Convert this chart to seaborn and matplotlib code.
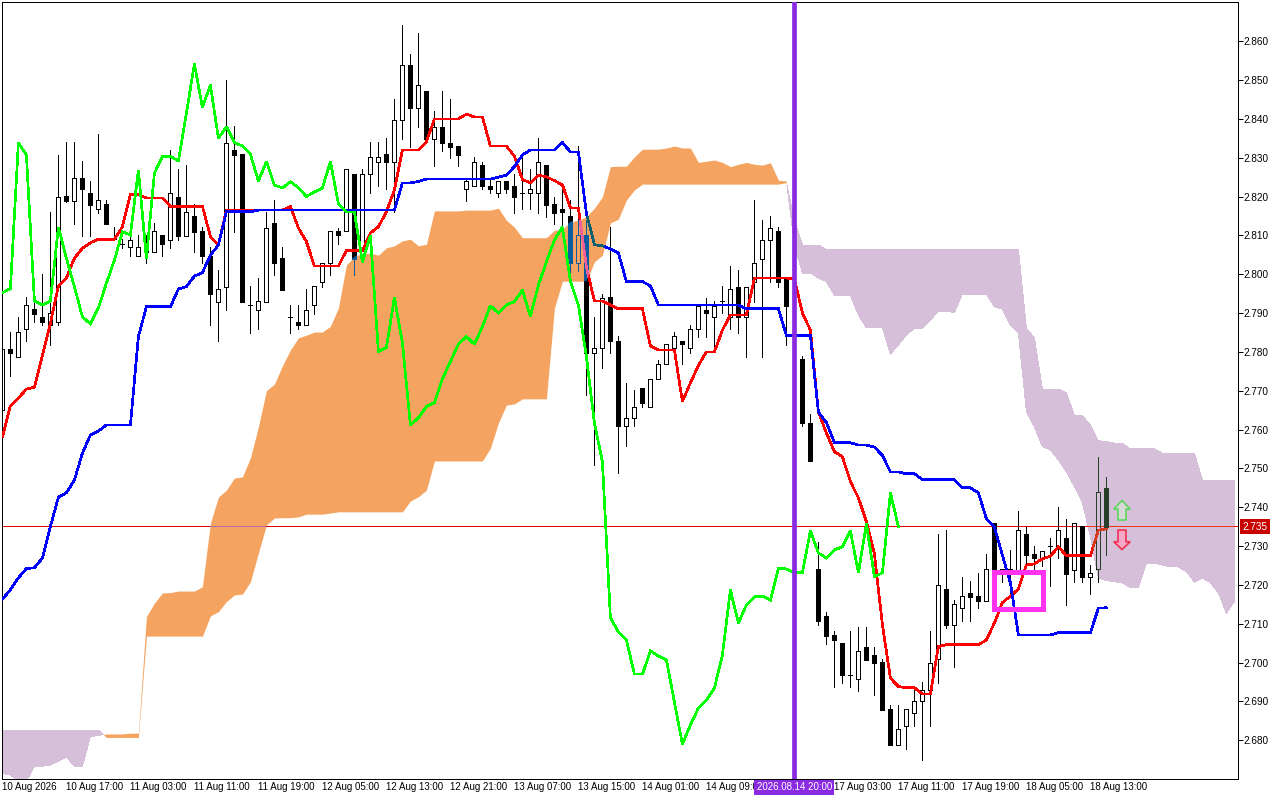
import matplotlib
matplotlib.use('Agg')
import matplotlib.pyplot as plt
from matplotlib.patches import Polygon, Rectangle
from matplotlib.path import Path
import numpy as np
import pandas as pd
import seaborn as sns

nan = float('nan')

# candles, one value per bar (bar 99 sits behind the vertical marker)
open_ = [2.7649, 2.7808, 2.7788, 2.7860, 2.7910, 2.7890, 2.7869, 2.7878, 2.8201, 2.8189,
         2.8249, 2.8210, 2.8169, 2.8180, 2.8091, 2.8079, 2.8069, 2.8048, 2.8069, 2.8058,
         2.8100, 2.8089, 2.8200, 2.8099, 2.8149, 2.8110, 2.8048, 2.7929, 2.7968, 2.8319,
         2.8309, 2.7920, 2.7909, 2.7929, 2.8131, 2.8041, 2.7889, 2.7878, 2.7870, 2.7920,
         2.7979, 2.8030, 2.8110, 2.8110, 2.8259, 2.8041, 2.8259, 2.8290, 2.8309, 2.8290,
         2.8398, 2.8540, 2.8428, 2.8471, 2.8349, 2.8380, 2.8339, 2.8329, 2.8220, 2.8228,
         2.8280, 2.8228, 2.8210, 2.8239, 2.8228, 2.8210, 2.8210, 2.8210, 2.8280, 2.8180,
         2.8169, 2.8149, 2.8029, 2.8100, 2.7798, 2.7809, 2.7941, 2.7829, 2.7610, 2.7629,
         2.7708, 2.7659, 2.7729, 2.7770, 2.7809, 2.7829, 2.7809, 2.7860, 2.7909, 2.7889,
         2.7930, 2.7889, 2.7968, 2.7889, 2.7979, 2.8040, 2.8089, 2.8111, 2.7987, nan,
         2.7781, 2.7618, 2.7241, 2.7120, 2.7071, 2.7050, 2.6969, 2.6958, 2.7040, 2.7019,
         2.7001, 2.6880, 2.6788, 2.6837, 2.6869, 2.6900, 2.6928, 2.7008, 2.7189, 2.7097,
         2.7140, 2.7179, 2.7171, 2.7159, 2.7359, 2.7230, 2.7230, 2.7230, 2.7330, 2.7279,
         2.7268, 2.7300, 2.7298, 2.7320, 2.7239, 2.7351, 2.7219, 2.7240, 2.7449]
high = [2.7808, 2.7850, 2.7889, 2.7942, 2.7925, 2.8000, 2.8160, 2.8308, 2.8340, 2.8340,
        2.8291, 2.8240, 2.8361, 2.8190, 2.8121, 2.8090, 2.8101, 2.8101, 2.8101, 2.8131,
        2.8100, 2.8319, 2.8270, 2.8281, 2.8180, 2.8121, 2.8069, 2.8011, 2.8499, 2.8381,
        2.8309, 2.7969, 2.7990, 2.8160, 2.8191, 2.8069, 2.7920, 2.7920, 2.7961, 2.7969,
        2.8030, 2.8110, 2.8120, 2.8270, 2.8259, 2.8270, 2.8340, 2.8340, 2.8350, 2.8450,
        2.8641, 2.8568, 2.8620, 2.8471, 2.8420, 2.8471, 2.8450, 2.8329, 2.8249, 2.8301,
        2.8290, 2.8249, 2.8239, 2.8239, 2.8259, 2.8301, 2.8270, 2.8350, 2.8280, 2.8199,
        2.8234, 2.8191, 2.8330, 2.8139, 2.7889, 2.7950, 2.8121, 2.7840, 2.7719, 2.7701,
        2.7708, 2.7729, 2.7780, 2.7819, 2.7850, 2.7829, 2.7870, 2.7919, 2.7940, 2.7930,
        2.7969, 2.8021, 2.8010, 2.7968, 2.8191, 2.8139, 2.8149, 2.8121, 2.7987, nan,
        2.7789, 2.7640, 2.7310, 2.7130, 2.7081, 2.7050, 2.7081, 2.7091, 2.7091, 2.7040,
        2.7009, 2.6890, 2.6890, 2.6879, 2.6931, 2.6949, 2.7081, 2.7330, 2.7341, 2.7161,
        2.7221, 2.7210, 2.7230, 2.7280, 2.7359, 2.7240, 2.7290, 2.7390, 2.7350, 2.7300,
        2.7288, 2.7320, 2.7401, 2.7370, 2.7359, 2.7351, 2.7251, 2.7528, 2.7479]
low = [2.7649, 2.7738, 2.7788, 2.7828, 2.7878, 2.7869, 2.7817, 2.7869, 2.8185, 2.8129,
       2.8098, 2.8098, 2.8158, 2.8130, 2.8090, 2.8067, 2.8047, 2.8048, 2.8029, 2.8058,
       2.8047, 2.8067, 2.8088, 2.8099, 2.8057, 2.8028, 2.7869, 2.7828, 2.7908, 2.8108,
       2.7929, 2.7849, 2.7860, 2.7929, 2.7998, 2.7960, 2.7849, 2.7860, 2.7870, 2.7897,
       2.7968, 2.7998, 2.8079, 2.8110, 2.7998, 2.8041, 2.8210, 2.8228, 2.8219, 2.8161,
       2.8348, 2.8328, 2.8379, 2.8348, 2.8279, 2.8318, 2.8300, 2.8279, 2.8189, 2.8228,
       2.8219, 2.8210, 2.8199, 2.8210, 2.8158, 2.8167, 2.8168, 2.8158, 2.8148, 2.8129,
       2.8105, 2.7998, 2.8009, 2.7690, 2.7508, 2.7759, 2.7798, 2.7489, 2.7558, 2.7610,
       2.7659, 2.7659, 2.7729, 2.7770, 2.7809, 2.7768, 2.7798, 2.7839, 2.7839, 2.7809,
       2.7899, 2.7860, 2.7849, 2.7787, 2.7929, 2.7787, 2.7979, 2.7967, 2.7817, nan,
       2.7609, 2.7519, 2.7097, 2.7048, 2.6938, 2.6948, 2.6938, 2.6927, 2.7007, 2.6917,
       2.6878, 2.6788, 2.6788, 2.6778, 2.6837, 2.6749, 2.6837, 2.6948, 2.7089, 2.6989,
       2.7108, 2.7108, 2.7140, 2.7159, 2.7240, 2.7208, 2.7170, 2.7230, 2.7251, 2.7238,
       2.7249, 2.7198, 2.7270, 2.7148, 2.7208, 2.7208, 2.7177, 2.7208, 2.7277]
close = [2.7808, 2.7798, 2.7850, 2.7920, 2.7898, 2.7878, 2.7899, 2.8200, 2.8189, 2.8249,
         2.8220, 2.8179, 2.8190, 2.8130, 2.8091, 2.8079, 2.8089, 2.8069, 2.8058, 2.8110,
         2.8079, 2.8210, 2.8099, 2.8159, 2.8109, 2.8048, 2.7949, 2.7961, 2.8339, 2.8307,
         2.7929, 2.7920, 2.7930, 2.8120, 2.8029, 2.7960, 2.7889, 2.7869, 2.7909, 2.7969,
         2.8030, 2.8110, 2.8100, 2.8270, 2.8040, 2.8259, 2.8301, 2.8301, 2.8289, 2.8398,
         2.8540, 2.8428, 2.8488, 2.8348, 2.8379, 2.8339, 2.8328, 2.8307, 2.8239, 2.8290,
         2.8228, 2.8219, 2.8239, 2.8220, 2.8199, 2.8210, 2.8220, 2.8290, 2.8179, 2.8158,
         2.8159, 2.8029, 2.8100, 2.7798, 2.7809, 2.7940, 2.7828, 2.7610, 2.7629, 2.7659,
         2.7669, 2.7729, 2.7770, 2.7819, 2.7840, 2.7819, 2.7860, 2.7919, 2.7899, 2.7919,
         2.7930, 2.7961, 2.7889, 2.7968, 2.8029, 2.8089, 2.8120, 2.7979, 2.7919, nan,
         2.7617, 2.7519, 2.7108, 2.7069, 2.7059, 2.6969, 2.6969, 2.7030, 2.7007, 2.7000,
         2.6878, 2.6788, 2.6830, 2.6879, 2.6900, 2.6928, 2.7000, 2.7199, 2.7097, 2.7150,
         2.7171, 2.7169, 2.7159, 2.7240, 2.7240, 2.7240, 2.7240, 2.7341, 2.7277, 2.7268,
         2.7288, 2.7300, 2.7341, 2.7229, 2.7359, 2.7219, 2.7230, 2.7438, 2.7349]

# ichimoku lines
tenkan = [2.7581, 2.7661, 2.7681, 2.7704, 2.7709, 2.7792, 2.7874, 2.7970, 2.7990, 2.8041,
          2.8067, 2.8081, 2.8090, 2.8090, 2.8090, 2.8122, 2.8206, 2.8206, 2.8196, 2.8196,
          2.8196, 2.8175, 2.8175, 2.8175, 2.8175, 2.8175, 2.8097, 2.8075, 2.8165, 2.8165,
          2.8165, 2.8165, 2.8165, 2.8165, 2.8165, 2.8165, 2.8174, 2.8119, 2.8084, 2.8021,
          2.8021, 2.8021, 2.8021, 2.8061, 2.8061, 2.8061, 2.8106, 2.8122, 2.8161, 2.8217,
          2.8320, 2.8320, 2.8320, 2.8341, 2.8400, 2.8400, 2.8400, 2.8400, 2.8412, 2.8405,
          2.8405, 2.8330, 2.8330, 2.8330, 2.8304, 2.8244, 2.8235, 2.8255, 2.8251, 2.8241,
          2.8230, 2.8171, 2.8170, 2.8019, 2.7931, 2.7931, 2.7921, 2.7911, 2.7911, 2.7911,
          2.7911, 2.7815, 2.7805, 2.7805, 2.7805, 2.7672, 2.7720, 2.7765, 2.7800, 2.7800,
          2.7856, 2.7895, 2.7895, 2.7895, 2.7990, 2.7990, 2.7990, 2.7990, 2.7990, 2.7988,
          2.7900, 2.7856, 2.7645, 2.7591, 2.7543, 2.7530, 2.7466, 2.7424, 2.7363, 2.7280,
          2.7097, 2.6960, 2.6938, 2.6935, 2.6935, 2.6919, 2.6919, 2.7041, 2.7046, 2.7046,
          2.7046, 2.7046, 2.7046, 2.7058, 2.7102, 2.7154, 2.7171, 2.7189, 2.7251, 2.7254,
          2.7267, 2.7274, 2.7298, 2.7275, 2.7275, 2.7275, 2.7275, 2.7341, 2.7344]
kijun = [2.7163, 2.7187, 2.7218, 2.7242, 2.7244, 2.7269, 2.7350, 2.7426, 2.7437, 2.7470,
         2.7539, 2.7586, 2.7596, 2.7612, 2.7612, 2.7612, 2.7612, 2.7839, 2.7916, 2.7916,
         2.7916, 2.7916, 2.7962, 2.7968, 2.7995, 2.8004, 2.8049, 2.8075, 2.8161, 2.8161,
         2.8161, 2.8161, 2.8165, 2.8165, 2.8165, 2.8165, 2.8165, 2.8165, 2.8165, 2.8165,
         2.8165, 2.8165, 2.8165, 2.8165, 2.8165, 2.8165, 2.8165, 2.8165, 2.8165, 2.8165,
         2.8235, 2.8235, 2.8239, 2.8245, 2.8245, 2.8245, 2.8245, 2.8245, 2.8245, 2.8245,
         2.8245, 2.8245, 2.8250, 2.8255, 2.8277, 2.8307, 2.8320, 2.8320, 2.8320, 2.8320,
         2.8339, 2.8315, 2.8315, 2.8157, 2.8076, 2.8073, 2.8065, 2.8055, 2.7981, 2.7981,
         2.7981, 2.7970, 2.7921, 2.7921, 2.7921, 2.7921, 2.7921, 2.7921, 2.7921, 2.7921,
         2.7921, 2.7921, 2.7921, 2.7911, 2.7911, 2.7911, 2.7911, 2.7911, 2.7842, 2.7842,
         2.7842, 2.7842, 2.7645, 2.7618, 2.7566, 2.7566, 2.7566, 2.7560, 2.7560, 2.7555,
         2.7533, 2.7491, 2.7491, 2.7486, 2.7486, 2.7471, 2.7471, 2.7471, 2.7471, 2.7471,
         2.7450, 2.7450, 2.7437, 2.7370, 2.7349, 2.7277, 2.7205, 2.7071, 2.7071, 2.7071,
         2.7071, 2.7071, 2.7077, 2.7077, 2.7077, 2.7077, 2.7077, 2.7140, 2.7141]
chikou = [2.7952, 2.7963, 2.8339, 2.8307, 2.7931, 2.7921, 2.7931, 2.8121, 2.8041, 2.7968,
          2.7890, 2.7872, 2.7913, 2.7977, 2.8036, 2.8109, 2.8101, 2.8268, 2.8041, 2.8260,
          2.8303, 2.8303, 2.8292, 2.8415, 2.8541, 2.8430, 2.8487, 2.8350, 2.8380, 2.8339,
          2.8330, 2.8309, 2.8240, 2.8290, 2.8230, 2.8222, 2.8238, 2.8223, 2.8200, 2.8212,
          2.8222, 2.8290, 2.8181, 2.8160, 2.8160, 2.8032, 2.8099, 2.7800, 2.7811, 2.7940,
          2.7823, 2.7612, 2.7630, 2.7659, 2.7669, 2.7730, 2.7775, 2.7820, 2.7839, 2.7820,
          2.7865, 2.7919, 2.7900, 2.7921, 2.7929, 2.7959, 2.7891, 2.7972, 2.8032, 2.8088,
          2.8121, 2.7981, 2.7921, 2.7788, 2.7617, 2.7517, 2.7115, 2.7079, 2.7058, 2.6970,
          2.6970, 2.7030, 2.7017, 2.7007, 2.6898, 2.6790, 2.6839, 2.6883, 2.6903, 2.6934,
          2.7019, 2.7187, 2.7102, 2.7148, 2.7169, 2.7171, 2.7161, 2.7243, 2.7241, 2.7231,
          2.7231, 2.7339, 2.7282, 2.7269, 2.7290, 2.7298, 2.7339, 2.7231, 2.7357, 2.7221,
          2.7231, 2.7437, 2.7350]
span_a = [2.6715, 2.6710, 2.6695, 2.6695, 2.6732, 2.6733, 2.6736, 2.6746, 2.6757, 2.6732,
          2.6733, 2.6809, 2.6812, 2.6816, 2.6816, 2.6816, 2.6818, 2.6818, 2.7118, 2.7153,
          2.7179, 2.7180, 2.7184, 2.7184, 2.7184, 2.7195, 2.7359, 2.7426, 2.7444, 2.7475,
          2.7478, 2.7527, 2.7607, 2.7700, 2.7717, 2.7764, 2.7805, 2.7836, 2.7843, 2.7851,
          2.7851, 2.7866, 2.7913, 2.8024, 2.8045, 2.8054, 2.8054, 2.8049, 2.8068, 2.8073,
          2.8086, 2.8090, 2.8073, 2.8077, 2.8163, 2.8163, 2.8163, 2.8163, 2.8165, 2.8165,
          2.8165, 2.8165, 2.8170, 2.8139, 2.8121, 2.8094, 2.8094, 2.8094, 2.8094, 2.8113,
          2.8116, 2.8135, 2.8139, 2.8148, 2.8170, 2.8199, 2.8277, 2.8278, 2.8278, 2.8302,
          2.8322, 2.8322, 2.8322, 2.8325, 2.8330, 2.8325, 2.8325, 2.8288, 2.8291, 2.8294,
          2.8288, 2.8277, 2.8283, 2.8288, 2.8283, 2.8281, 2.8287, 2.8242, 2.8240, 2.8075,
          2.8003, 2.8003, 2.7990, 2.7981, 2.7945, 2.7945, 2.7945, 2.7895, 2.7862, 2.7862,
          2.7862, 2.7794, 2.7818, 2.7843, 2.7861, 2.7861, 2.7882, 2.7905, 2.7905, 2.7901,
          2.7949, 2.7949, 2.7949, 2.7949, 2.7916, 2.7910, 2.7869, 2.7849, 2.7646, 2.7607,
          2.7556, 2.7547, 2.7522, 2.7491, 2.7453, 2.7411, 2.7324, 2.7218, 2.7211, 2.7208,
          2.7205, 2.7193, 2.7193, 2.7254, 2.7256, 2.7251, 2.7246, 2.7246, 2.7234, 2.7207,
          2.7218, 2.7205, 2.7179, 2.7127, 2.7157]
span_b = [2.6826, 2.6826, 2.6826, 2.6826, 2.6826, 2.6826, 2.6826, 2.6826, 2.6826, 2.6826,
          2.6826, 2.6826, 2.6826, 2.6807, 2.6807, 2.6807, 2.6807, 2.6807, 2.7068, 2.7068,
          2.7068, 2.7068, 2.7068, 2.7068, 2.7068, 2.7068, 2.7120, 2.7131, 2.7157, 2.7174,
          2.7176, 2.7208, 2.7282, 2.7354, 2.7372, 2.7373, 2.7373, 2.7375, 2.7382, 2.7382,
          2.7382, 2.7385, 2.7388, 2.7388, 2.7388, 2.7388, 2.7388, 2.7388, 2.7388, 2.7388,
          2.7388, 2.7416, 2.7427, 2.7444, 2.7519, 2.7519, 2.7519, 2.7519, 2.7519, 2.7519,
          2.7519, 2.7552, 2.7617, 2.7663, 2.7666, 2.7679, 2.7679, 2.7679, 2.7679, 2.7913,
          2.7982, 2.7982, 2.7982, 2.7982, 2.8032, 2.8049, 2.8132, 2.8142, 2.8191, 2.8217,
          2.8232, 2.8232, 2.8232, 2.8232, 2.8232, 2.8232, 2.8232, 2.8232, 2.8232, 2.8232,
          2.8232, 2.8232, 2.8232, 2.8232, 2.8232, 2.8232, 2.8232, 2.8232, 2.8236, 2.8139,
          2.8075, 2.8075, 2.8075, 2.8064, 2.8064, 2.8064, 2.8064, 2.8064, 2.8064, 2.8064,
          2.8064, 2.8064, 2.8064, 2.8064, 2.8064, 2.8064, 2.8064, 2.8064, 2.8064, 2.8064,
          2.8064, 2.8064, 2.8064, 2.8064, 2.8064, 2.8064, 2.8064, 2.8064, 2.7861, 2.7836,
          2.7704, 2.7704, 2.7704, 2.7694, 2.7637, 2.7635, 2.7612, 2.7571, 2.7569, 2.7565,
          2.7565, 2.7550, 2.7550, 2.7550, 2.7550, 2.7539, 2.7539, 2.7539, 2.7539, 2.7539,
          2.7470, 2.7470, 2.7470, 2.7470, 2.7470]

last_price = 2.735
marker_bar = 99
marker_label = '2026.08.14 20:00'
price_ticks = [2.68, 2.69, 2.70, 2.71, 2.72, 2.73, 2.74, 2.75, 2.76, 2.77,
               2.78, 2.79, 2.80, 2.81, 2.82, 2.83, 2.84, 2.85, 2.86]
time_ticks = [0, 8, 16, 24, 32, 40, 48, 56, 64, 72, 80, 88, 96, 104, 112, 120, 128, 136]
time_labels = ['10 Aug 2026', '10 Aug 17:00', '11 Aug 03:00', '11 Aug 11:00', '11 Aug 19:00',
               '12 Aug 05:00', '12 Aug 13:00', '12 Aug 21:00', '13 Aug 07:00', '13 Aug 15:00',
               '14 Aug 01:00', '14 Aug 09:00', '', '17 Aug 03:00', '17 Aug 11:00',
               '17 Aug 19:00', '18 Aug 05:00', '18 Aug 13:00']

FONT = 'Liberation Sans'
ORANGE = '#f4a460'
THISTLE = '#d6bfd8'


def draw_candles(ax, df, color, zorder, clip=None):
    up = df[df['close'] >= df['open']]
    down = df[df['close'] < df['open']]
    top = df[['open', 'close']].max(axis=1)
    bottom = df[['open', 'close']].min(axis=1)
    # wicks stop at the body, hollow candles stay empty
    parts = [ax.vlines(df['bar'], top, df['high'], color=color, lw=0.72,
                       antialiased=False, zorder=zorder),
             ax.vlines(df['bar'], df['low'], bottom, color=color, lw=0.72,
                       antialiased=False, zorder=zorder)]
    for part, face in ((up, 'none'), (down, color)):
        part_bottom = part[['open', 'close']].min(axis=1)
        height = (part['close'] - part['open']).abs()
        bars = ax.bar(part['bar'], height, bottom=part_bottom, width=0.5, facecolor=face,
                      edgecolor=color, linewidth=0.72, antialiased=False, zorder=zorder)
        parts.extend(bars.patches)
    if clip is not None:
        for artist in parts:
            artist.set_clip_path(clip, ax.transData)


def draw_line(ax, df, column, color, zorder, clip=None):
    sns.lineplot(data=df, x='bar', y=column, color=color, lw=1.2, estimator=None,
                 sort=False, antialiased=False, legend=False, zorder=zorder, ax=ax)
    line = ax.lines[-1]
    line.set_solid_joinstyle('miter')
    if clip is not None:
        line.set_clip_path(clip, ax.transData)


def plot_chart():
    sns.set_theme(style='white')
    plt.rcParams['font.family'] = [FONT, 'DejaVu Sans']

    candles = pd.DataFrame({'open': open_, 'high': high, 'low': low, 'close': close})
    candles['bar'] = candles.index
    candles = candles.dropna()
    lines = pd.DataFrame({'tenkan': tenkan, 'kijun': kijun})
    lines['bar'] = lines.index
    lagging = pd.DataFrame({'chikou': chikou})
    lagging['bar'] = lagging.index
    cloud_x = np.arange(len(span_a))
    a = np.array(span_a)
    b = np.array(span_b)

    fig = plt.figure(figsize=(12.8, 8), dpi=100)
    ax = fig.add_axes([2 / 1280, 21 / 800, 1236 / 1280, 777 / 800])

    orange = ax.fill_between(cloud_x, a, b, where=a >= b, interpolate=True, color=ORANGE,
                             linewidth=0, antialiased=False, zorder=1)
    thistle = ax.fill_between(cloud_x, a, b, where=b >= a, interpolate=True, color=THISTLE,
                              linewidth=0, antialiased=False, zorder=1)
    in_orange = Path.make_compound_path(*orange.get_paths())
    in_thistle = Path.make_compound_path(*thistle.get_paths())

    # the terminal inverts whatever is painted over the cloud
    ax.axhline(last_price + 0.0001, color='#e00000', lw=0.72, antialiased=False, zorder=2)
    ax.axhline(last_price + 0.0001, color='#b868a8', lw=0.72, antialiased=False,
               zorder=2.1).set_clip_path(in_orange, ax.transData)
    ax.axhline(last_price + 0.0001, color='#f03418', lw=0.72, antialiased=False,
               zorder=2.1).set_clip_path(in_thistle, ax.transData)

    draw_candles(ax, candles, 'black', 3)
    draw_candles(ax, candles, '#0b5b9f', 3.1, in_orange)
    draw_candles(ax, candles, '#274027', 3.1, in_thistle)

    draw_line(ax, lines, 'tenkan', '#ff0000', 4)
    draw_line(ax, lines, 'tenkan', '#f0609a', 4.1, in_orange)
    draw_line(ax, lines, 'tenkan', '#d83c20', 4.1, in_thistle)
    draw_line(ax, lines, 'kijun', '#0000ff', 5)
    draw_line(ax, lines, 'kijun', '#0d6070', 5.1, in_orange)
    draw_line(ax, lagging, 'chikou', '#00ff00', 6)

    ax.axvline(marker_bar, color='#8a2be2', lw=3.4, zorder=7)

    # drawn objects on the chart
    ax.add_patch(Rectangle((124.0, 2.7138), 6.08, 0.0094, facecolor='none', edgecolor='#ff33f0',
                           lw=3.3, joinstyle='miter', antialiased=False, zorder=8))
    ax.add_patch(Polygon([(139.95, 2.7417), (140.98, 2.7395), (140.45, 2.7395), (140.45, 2.7367),
                          (139.45, 2.7367), (139.45, 2.7395), (138.92, 2.7395)],
                         facecolor='#d8d8d8', edgecolor='#5cd65c', lw=1.2, zorder=8))
    ax.add_patch(Polygon([(139.95, 2.7291), (140.98, 2.7311), (140.45, 2.7311), (140.45, 2.7341),
                          (139.45, 2.7341), (139.45, 2.7311), (138.92, 2.7311)],
                         facecolor='#f4a8c8', edgecolor='#f03050', lw=1.2, zorder=8))

    ax.set_xlim(-0.05, 154.45)
    ax.set_ylim(2.6700, 2.8701)
    ax.set_xlabel('')
    ax.set_ylabel('')
    ax.yaxis.tick_right()
    ax.set_yticks(price_ticks)
    ax.set_yticklabels(['%.3f' % p for p in price_ticks])
    ax.set_xticks(time_ticks)
    ax.set_xticklabels(time_labels, ha='left')
    ax.tick_params(axis='y', length=3.6, width=0.72, color='black', labelcolor='black',
                   labelsize=7.2, pad=0)
    ax.tick_params(axis='x', length=3.6, width=0.72, color='black', labelcolor='black',
                   labelsize=7, pad=-1.5)
    for spine in ax.spines.values():
        spine.set_color('black')
        spine.set_linewidth(0.72)

    # tags on the axes
    ax.text(1.0035, last_price, '%.3f' % last_price, transform=ax.get_yaxis_transform(), va='center',
            ha='left', color='white', fontsize=7.2, clip_on=False, zorder=9,
            bbox=dict(boxstyle='square,pad=0.25', facecolor='#c80000', edgecolor='none'))
    ax.text(marker_bar, -0.0105, marker_label, transform=ax.get_xaxis_transform(), va='center',
            ha='center', color='white', fontsize=7, clip_on=False, zorder=9,
            bbox=dict(boxstyle='square,pad=0.25', facecolor='#8a2be2', edgecolor='none'))

    fig.savefig('out.png', dpi=100, facecolor='white')


plot_chart()
